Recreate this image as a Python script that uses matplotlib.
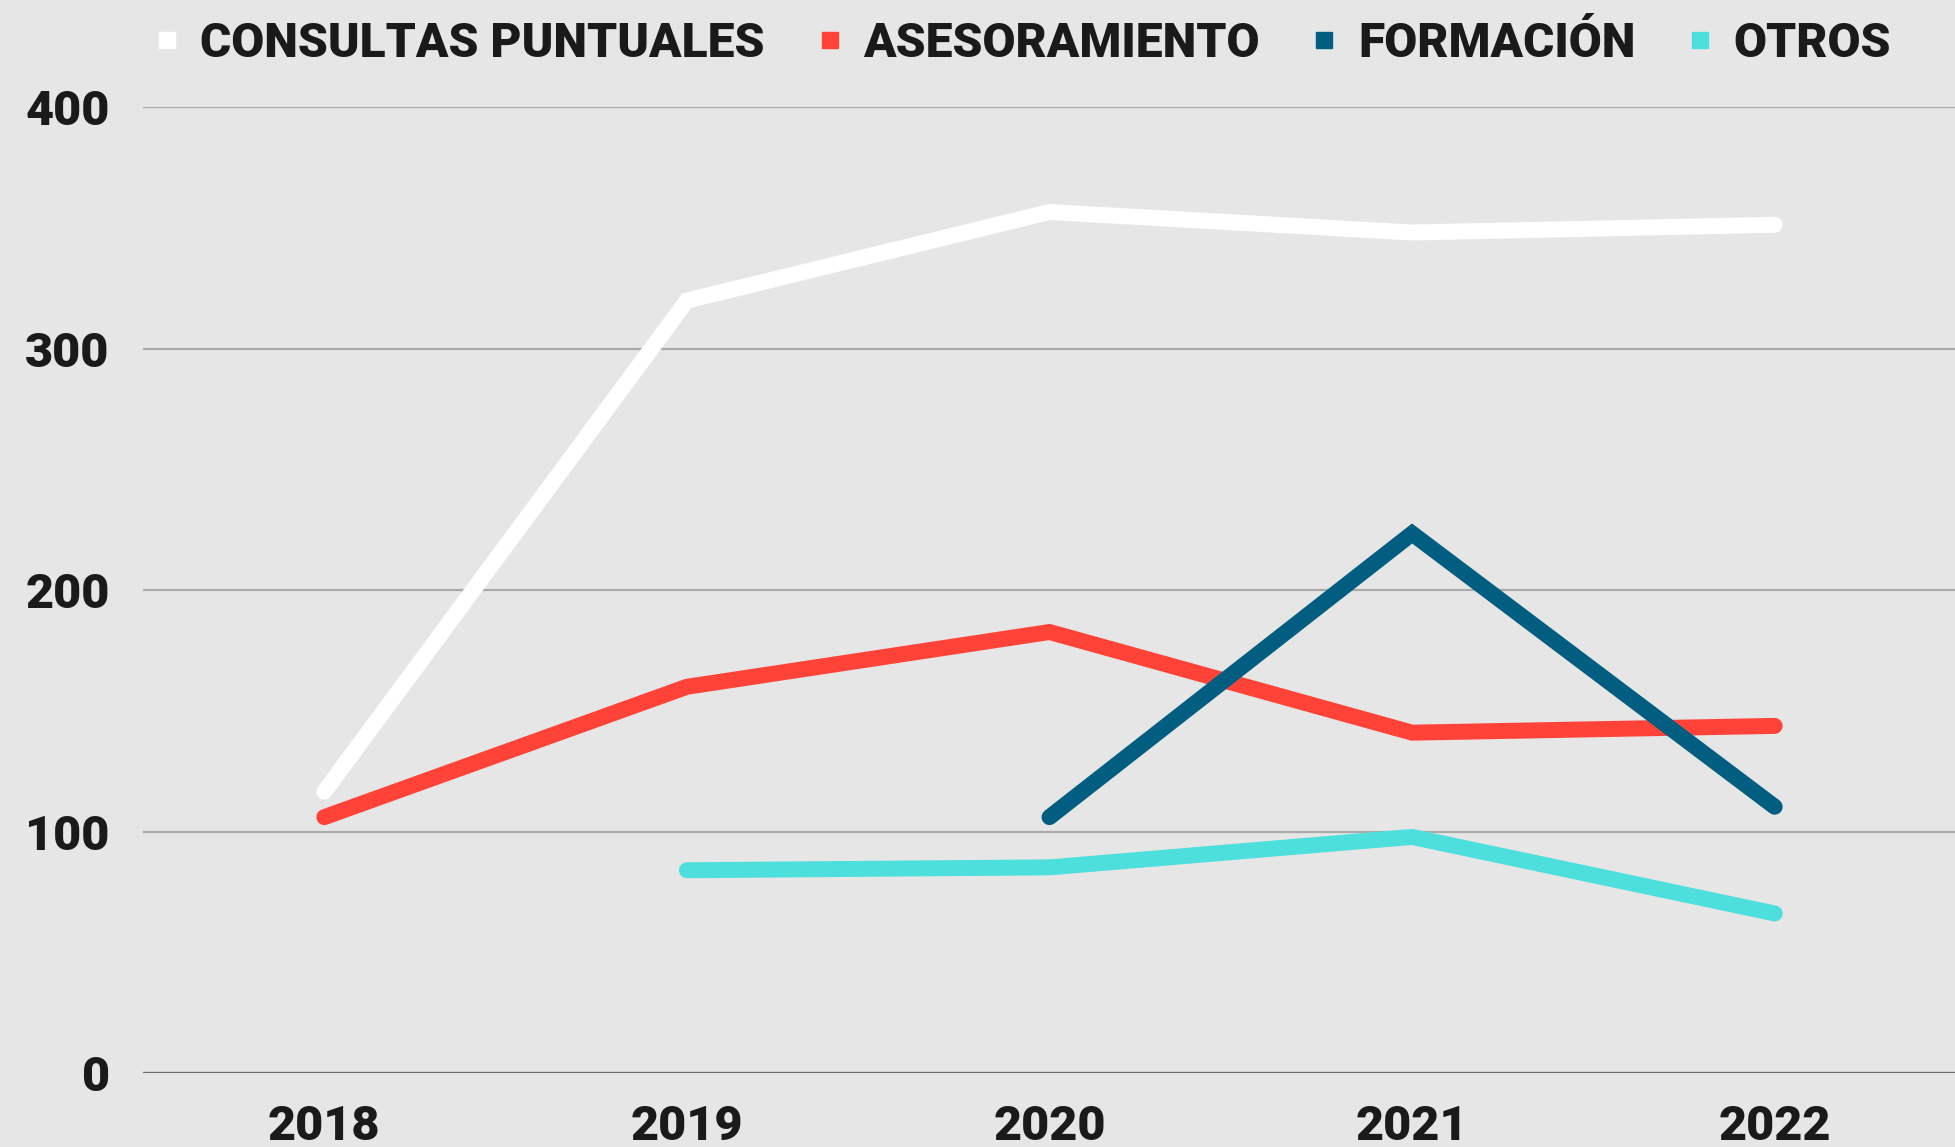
import matplotlib.pyplot as plt
import numpy as np
from matplotlib.lines import Line2D

years = ["2018", "2019", "2020", "2021", "2022"]
consultas = [116.5, 320, 356.7, 348.2, 351.4]
asesoramiento = [106, 160, 182.7, 141, 143.8]
formacion = [np.nan, np.nan, 106, 223.5, 110.3]
otros = [np.nan, 84, 85.2, 97.8, 66.1]

series_names = ["CONSULTAS PUNTUALES", "ASESORAMIENTO", "FORMACIÓN", "OTROS"]
series_colors = ["#ffffff", "#ff4338", "#025e81", "#4ddfdc"]
y_ticks = [0, 100, 200, 300, 400]

plt.rcParams["font.family"] = ["Roboto", "DejaVu Sans"]

fig = plt.figure(figsize=(19.56, 11.47), dpi=100)
fig.patch.set_facecolor("#e6e6e6")
ax = fig.add_axes([0.0731, 0.0645, 0.9269, 0.8418])
ax.set_facecolor("#e6e6e6")

x = np.arange(len(years))
for vals, color in zip([consultas, asesoramiento, formacion, otros], series_colors):
    ax.plot(x, vals, color=color, lw=11.5, solid_capstyle="round",
            solid_joinstyle="miter", zorder=3)

ax.set_xlim(-0.5, len(years) - 0.5)
ax.set_ylim(0, 400)
ax.set_xticks(x)
ax.set_xticklabels(years)
ax.set_yticks(y_ticks)
ax.set_yticklabels([str(t) for t in y_ticks])

for t in y_ticks[1:]:
    ax.axhline(t, color="#aaaaaa", lw=1.6, zorder=1)
ax.axhline(0, color="#6e6e6e", lw=2.4, zorder=2)

for s in ax.spines.values():
    s.set_visible(False)
ax.tick_params(axis="both", length=0, labelsize=35, colors="#1a1a1a")
ax.tick_params(axis="y", pad=24)
ax.tick_params(axis="x", pad=22)
for lab in ax.get_xticklabels() + ax.get_yticklabels():
    lab.set_fontweight("black")

handles = [Line2D([], [], marker="s", color=c, ls="none", markersize=12)
           for c in series_colors]
leg = fig.legend(handles, series_names, loc="center", bbox_to_anchor=(0.523, 0.962),
                 ncol=4, frameon=False, handlelength=0.5, handletextpad=0.45,
                 columnspacing=1.1, prop={"size": 34.5, "weight": "black"})
for t in leg.get_texts():
    t.set_color("#1a1a1a")

fig.savefig("out.png", dpi=100, facecolor=fig.get_facecolor())
